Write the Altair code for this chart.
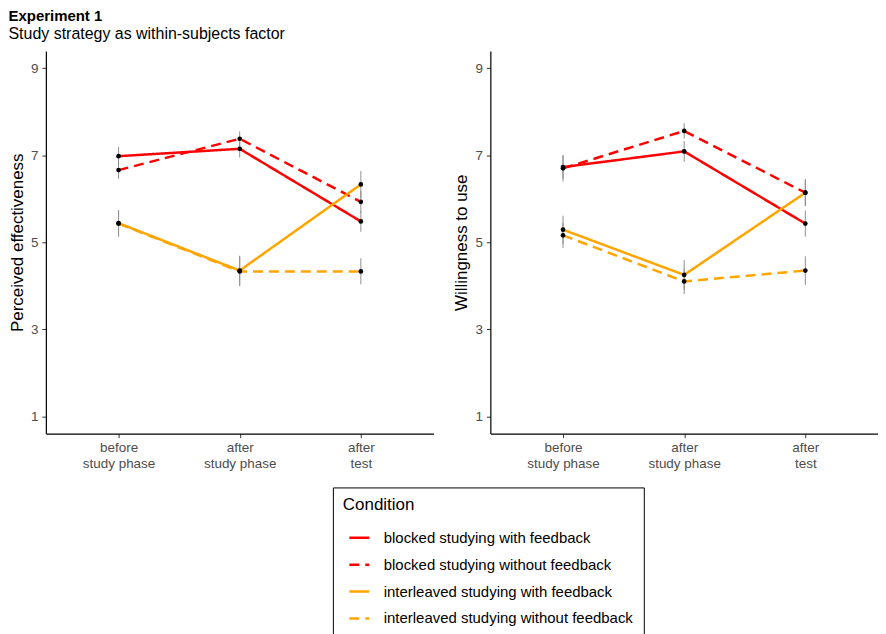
import altair as alt
import pandas as pd

times = ["before study phase", "after study phase", "after test"]
conditions = [
    "blocked studying with feedback",
    "blocked studying without feedback",
    "interleaved studying with feedback",
    "interleaved studying without feedback",
]
cond_colors = ["#FF0000", "#FF0000", "#FFA500", "#FFA500"]
cond_dashes = [[1, 0], [10, 6], [1, 0], [10, 6]]

# Perceived effectiveness (means, standard errors)
pe_blocked_fb = [6.98, 7.15, 5.48]
pe_blocked_nofb = [6.66, 7.38, 5.93]
pe_inter_fb = [5.44, 4.35, 6.33]
pe_inter_nofb = [5.43, 4.33, 4.33]
pe_se_blocked_fb = [0.21, 0.20, 0.24]
pe_se_blocked_nofb = [0.20, 0.17, 0.25]
pe_se_inter_fb = [0.30, 0.34, 0.31]
pe_se_inter_nofb = [0.30, 0.34, 0.30]

# Willingness to use (means, standard errors)
wu_blocked_fb = [6.73, 7.09, 5.43]
wu_blocked_nofb = [6.70, 7.56, 6.14]
wu_inter_fb = [5.29, 4.25, 6.14]
wu_inter_nofb = [5.16, 4.10, 4.35]
wu_se_blocked_fb = [0.27, 0.24, 0.30]
wu_se_blocked_nofb = [0.30, 0.18, 0.30]
wu_se_inter_fb = [0.32, 0.34, 0.31]
wu_se_inter_nofb = [0.29, 0.29, 0.33]


def build(means, ses):
    rows = []
    for cond, m, s in zip(conditions, means, ses):
        for t, mv, sv in zip(times, m, s):
            rows.append({"time": t, "cond": cond, "mean": mv, "lo": mv - sv, "hi": mv + sv})
    return pd.DataFrame(rows)


pe_df = build([pe_blocked_fb, pe_blocked_nofb, pe_inter_fb, pe_inter_nofb],
              [pe_se_blocked_fb, pe_se_blocked_nofb, pe_se_inter_fb, pe_se_inter_nofb])
wu_df = build([wu_blocked_fb, wu_blocked_nofb, wu_inter_fb, wu_inter_nofb],
              [wu_se_blocked_fb, wu_se_blocked_nofb, wu_se_inter_fb, wu_se_inter_nofb])

FONT = "Liberation Sans"

legend = alt.Legend(
    title="Condition",
    orient="none",
    legendX=288,
    legendY=438,
    direction="vertical",
    strokeColor="black",
    padding=10,
    titleFontSize=17,
    titleFontWeight="normal",
    titleColor="black",
    titleFont=FONT,
    titlePadding=12,
    labelFontSize=15,
    labelColor="black",
    labelFont=FONT,
    labelOffset=13,
    symbolOffset=5,
    symbolSize=400,
    symbolStrokeWidth=2.5,
    symbolType="stroke",
    rowPadding=7,
    labelLimit=400,
)


def panel(df, ytitle):
    yscale = alt.Scale(domain=[0.6, 9.4], nice=False, zero=False)
    yaxis = alt.Axis(values=[1, 3, 5, 7, 9], title=ytitle, titleFontSize=17,
                     titleFontWeight="normal", titlePadding=4, labelPadding=4)
    base = alt.Chart(df).encode(
        x=alt.X("time:N", sort=times, scale=alt.Scale(type="point", padding=0.6),
                axis=alt.Axis(title=None, labelAngle=0,
                              labelExpr="split(replace(datum.label, ' ', '|'), '|')",
                              labelLineHeight=16, labelPadding=3)),
    )
    err = base.mark_rule(color="#8f8f8f", strokeWidth=1).encode(
        y=alt.Y("lo:Q", scale=yscale, axis=yaxis, title=ytitle),
        y2="hi:Q",
    )
    lines = base.mark_line(strokeWidth=2.5).encode(
        y=alt.Y("mean:Q", scale=yscale, title=ytitle),
        color=alt.Color("cond:N", sort=conditions,
                        scale=alt.Scale(domain=conditions, range=cond_colors), legend=legend),
        strokeDash=alt.StrokeDash("cond:N", sort=conditions,
                                  scale=alt.Scale(domain=conditions, range=cond_dashes), legend=legend),
    )
    pts = base.mark_circle(color="black", size=22, opacity=1).encode(
        y=alt.Y("mean:Q", scale=yscale, title=ytitle),
    )
    return alt.layer(err, lines, pts).properties(width=389, height=384)


left = panel(pe_df, "Perceived effectiveness")
right = panel(wu_df, "Willingness to use")

chart = (
    alt.hconcat(left, right, spacing=19)
    .resolve_scale(color="shared", strokeDash="shared")
    .properties(
        title=alt.TitleParams(
            text="Experiment 1",
            subtitle="Study strategy as within-subjects factor",
            anchor="start",
            font=FONT,
            fontSize=15,
            fontWeight="bold",
            subtitleFont=FONT,
            subtitleFontSize=16,
            subtitleColor="black",
            color="black",
            subtitlePadding=2,
            offset=9,
            frame="bounds",
        ),
        padding={"left": 0, "top": 0, "right": 0, "bottom": 0},
    )
    .configure_view(stroke=None)
    .configure_axis(
        grid=False,
        domainColor="black",
        domainWidth=1.2,
        tickColor="#333333",
        tickSize=4,
        labelColor="#4D4D4D",
        labelFontSize=13.5,
        labelFont=FONT,
        titleFont=FONT,
        titleColor="black",
    )
)

chart.save("out.html", embed_options={"renderer": "svg", "actions": False})
